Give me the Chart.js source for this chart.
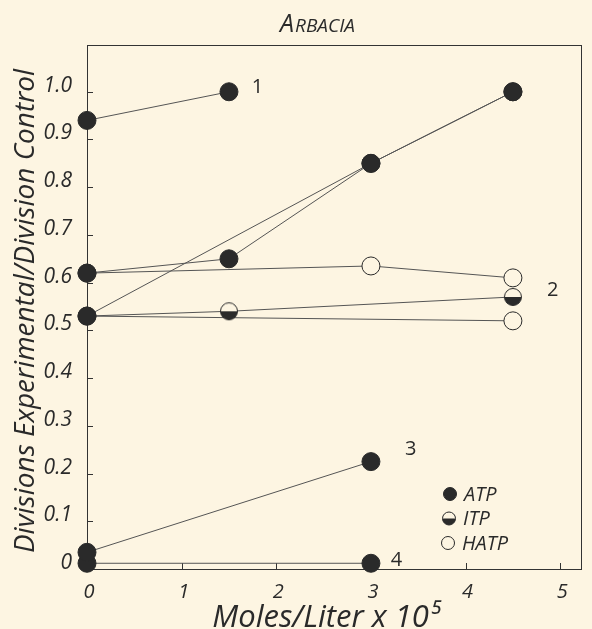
<!DOCTYPE html>
<html>
<head>
<meta charset="utf-8">
<script src="https://cdn.jsdelivr.net/npm/chart.js@4.4.1/dist/chart.umd.min.js"></script>
<style>
  html, body { margin: 0; padding: 0; background: #fdf5e2; }
  #wrap { width: 592px; height: 629px; }
</style>
</head>
<body>
<div id="wrap"><canvas id="myChart" width="592" height="629"></canvas></div>
<script>
// values (x = moles/liter x 10^5, y = ratio)
const curve1X = [0, 1.5];
const curve1Y = [0.94, 1.0];
const atpAX = [0, 1.5, 3, 4.5];
const atpAY = [0.62, 0.65, 0.85, 1.0];
const atpBX = [0, 3, 4.5];
const atpBY = [0.53, 0.85, 1.0];
const hatpAX = [0, 3, 4.5];
const hatpAY = [0.62, 0.635, 0.61];
const itpX = [0, 1.5, 4.5];
const itpY = [0.53, 0.54, 0.57];
const hatpBX = [0, 4.5];
const hatpBY = [0.53, 0.52];
const curve3X = [0, 3];
const curve3Y = [0.035, 0.225];
const curve4X = [0, 3];
const curve4Y = [0.012, 0.012];

const xTicks = [0, 1, 2, 3, 4, 5];
const yTicks = [0, 0.1, 0.2, 0.3, 0.4, 0.5, 0.6, 0.7, 0.8, 0.9, 1.0];
const legendNames = ['ATP', 'ITP', 'HATP'];
const curveNames = ['1', '2', '3', '4'];

var bg = '#fdf5e2';
var ink = '#2a2a2a';
var lineInk = '#555';
var font = "'Open Sans', 'DejaVu Sans', sans-serif";

function pts(xs, ys) {
  return xs.map(function (x, i) { return { x: x, y: ys[i] }; });
}

// half filled marker for ITP
function halfDot(r) {
  var c = document.createElement('canvas');
  c.width = r * 2 + 2;
  c.height = r * 2 + 2;
  var g = c.getContext('2d');
  var m = r + 1;
  g.fillStyle = bg;
  g.beginPath(); g.arc(m, m, r - 0.5, 0, Math.PI * 2); g.fill();
  g.fillStyle = ink;
  g.beginPath(); g.arc(m, m, r - 0.5, 0, Math.PI); g.closePath(); g.fill();
  g.strokeStyle = ink; g.lineWidth = 1;
  g.beginPath(); g.arc(m, m, r - 0.5, 0, Math.PI * 2); g.stroke();
  return c;
}

var itpMarker = halfDot(9);

function atp(xs, ys) {
  return {
    data: pts(xs, ys), borderColor: lineInk, borderWidth: 1,
    pointRadius: 9, pointBackgroundColor: ink, pointBorderColor: ink, order: 0
  };
}
function hatp(xs, ys) {
  return {
    data: pts(xs, ys), borderColor: lineInk, borderWidth: 1,
    pointRadius: 9, pointBackgroundColor: bg, pointBorderColor: ink, pointBorderWidth: 1, order: 2
  };
}

var datasets = [
  atp(curve1X, curve1Y),
  atp(atpAX, atpAY),
  atp(atpBX, atpBY),
  atp(curve3X, curve3Y),
  atp(curve4X, curve4Y),
  { data: pts(itpX, itpY), borderColor: lineInk, borderWidth: 1, pointStyle: itpMarker, order: 1 },
  hatp(hatpAX, hatpAY),
  hatp(hatpBX, hatpBY)
];

// where the curve numbers sit, in data units
var curveLabelAt = [[1.8, 1.01], [4.92, 0.585], [3.42, 0.25], [3.27, 0.018]];

var decor = {
  id: 'decor',
  beforeDraw: function (chart) {
    var ctx = chart.ctx;
    ctx.save();
    ctx.fillStyle = bg;
    ctx.fillRect(0, 0, chart.width, chart.height);
    ctx.restore();
  },
  beforeDatasetsDraw: function (chart) {
    var ctx = chart.ctx, a = chart.chartArea;
    var xs = chart.scales.x, ys = chart.scales.y;
    ctx.save();
    ctx.strokeStyle = '#333';
    ctx.lineWidth = 1;
    ctx.strokeRect(a.left + 0.5, a.top + 0.5, a.right - a.left - 1, a.bottom - a.top);
    // inward tick marks
    ctx.beginPath();
    xTicks.forEach(function (v) {
      var px = Math.round(xs.getPixelForValue(v)) + 0.5;
      ctx.moveTo(px, a.bottom); ctx.lineTo(px, a.bottom - 6);
    });
    yTicks.forEach(function (v) {
      var py = Math.round(ys.getPixelForValue(v)) + 0.5;
      ctx.moveTo(a.left, py); ctx.lineTo(a.left + 6, py);
    });
    ctx.stroke();
    ctx.restore();
  },
  afterDraw: function (chart) {
    var ctx = chart.ctx, a = chart.chartArea;
    var xs = chart.scales.x, ys = chart.scales.y;
    ctx.save();
    ctx.fillStyle = ink;
    ctx.textBaseline = 'alphabetic';
    // title: large initial, rest in smaller capitals
    ctx.font = 'italic 25px ' + font;
    var w1 = ctx.measureText('A').width;
    ctx.font = 'italic 19px ' + font;
    var w2 = ctx.measureText('RBACIA').width;
    var tx = 317 - (w1 + w2) / 2;
    ctx.textAlign = 'left';
    ctx.font = 'italic 25px ' + font;
    ctx.fillText('A', tx, 32);
    ctx.font = 'italic 19px ' + font;
    ctx.fillText('RBACIA', tx + w1 + 1, 32);
    ctx.textAlign = 'center';
    // axis titles
    ctx.font = 'italic 31px ' + font;
    ctx.fillText('Moles/Liter x 10\u2075', 326, 627);
    ctx.textBaseline = 'middle';
    ctx.save();
    ctx.translate(26, 311);
    ctx.rotate(-Math.PI / 2);
    ctx.font = 'italic 28px ' + font;
    ctx.fillText('Divisions Experimental/Division Control', 0, 0);
    ctx.restore();
    // curve numbers
    ctx.font = '20px ' + font;
    curveNames.forEach(function (n, i) {
      ctx.fillText(n, xs.getPixelForValue(curveLabelAt[i][0]), ys.getPixelForValue(curveLabelAt[i][1]));
    });
    // key
    var kx = 450, ky = 494, step = 24.5;
    ctx.font = 'italic 20px ' + font;
    ctx.textAlign = 'left';
    legendNames.forEach(function (n, i) {
      var y = ky + i * step;
      ctx.beginPath();
      ctx.arc(kx - i, y, 6.5, 0, Math.PI * 2);
      ctx.fillStyle = i === 0 ? ink : bg;
      ctx.fill();
      if (i === 1) {
        ctx.fillStyle = ink;
        ctx.beginPath(); ctx.arc(kx - i, y, 6.5, 0, Math.PI); ctx.closePath(); ctx.fill();
      }
      ctx.strokeStyle = ink; ctx.lineWidth = 1;
      ctx.beginPath(); ctx.arc(kx - i, y, 6.5, 0, Math.PI * 2); ctx.stroke();
      ctx.fillStyle = ink;
      ctx.fillText(n, kx + 14 - i, y + 1);
    });
    ctx.restore();
  }
};

var ctx = document.getElementById('myChart').getContext('2d');
var myChart = new Chart(ctx, {
  type: 'line',
  data: { datasets: datasets },
  plugins: [decor],
  options: {
    responsive: false,
    animation: false,
    clip: false,
    layout: { padding: { top: 45, right: 1, left: 0, bottom: 0 } },
    plugins: { legend: { display: false }, tooltip: { enabled: false }, title: { display: false } },
    scales: {
      x: {
        type: 'linear', min: 0, max: 5.23,
        grid: { display: false }, border: { display: false },
        afterBuildTicks: function (s) { s.ticks = xTicks.map(function (v) { return { value: v }; }); },
        afterFit: function (s) { s.height = 60; },
        ticks: { color: ink, padding: 3, labelOffset: 2, font: { family: font, size: 20, style: 'italic' },
          callback: function (v) { return String(v); } },
        title: { display: false }
      },
      y: {
        type: 'linear', min: 0, max: 1.098,
        grid: { display: false }, border: { display: false },
        afterBuildTicks: function (s) { s.ticks = yTicks.map(function (v) { return { value: v }; }); },
        afterFit: function (s) { s.width = 87; },
        ticks: { color: ink, padding: 7, labelOffset: -6, font: { family: font, size: 21, style: 'italic' },
          callback: function (v) { return v === 0 ? '0' : v.toFixed(1); } },
        title: { display: false }
      }
    }
  }
});
</script>
</body>
</html>
